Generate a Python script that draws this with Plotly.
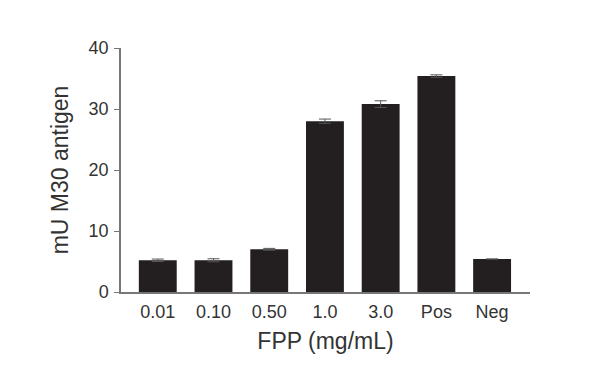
import plotly.graph_objects as go

categories = ["0.01", "0.10", "0.50", "1.0", "3.0", "Pos", "Neg"]
values = [5.2, 5.2, 7.0, 28.0, 30.8, 35.4, 5.4]
errors = [0.2, 0.25, 0.15, 0.35, 0.55, 0.2, 0.0]

fig = go.Figure(go.Bar(
    x=list(range(len(categories))), y=values,
    marker=dict(color="#231f20", line=dict(width=0)),
    width=0.68,
    error_y=dict(type="data", array=errors, visible=True, color="#555555", thickness=1, width=6),
))

fig.update_layout(
    width=600, height=370,
    margin=dict(l=113, r=78, t=40, b=86),
    plot_bgcolor="white", paper_bgcolor="white",
    font=dict(family="Liberation Sans, Arial, sans-serif", color="#333333"),
    showlegend=False,
)
fig.update_xaxes(
    range=[-0.66, 6.68], tickmode="array", tickvals=list(range(len(categories))),
    ticktext=categories, showline=True, linecolor="#777777", linewidth=1.5,
    ticks="", showgrid=False, zeroline=False, tickfont=dict(size=18),
    ticklabelstandoff=3,
    title=dict(text="FPP (mg/mL)", font=dict(size=23), standoff=12),
)
fig.update_yaxes(
    range=[0, 40], tickvals=[0, 10, 20, 30, 40], showline=True, linecolor="#777777",
    linewidth=1.5, ticks="outside", ticklen=5, tickcolor="#777777", showgrid=False,
    zeroline=False, tickfont=dict(size=18), ticklabelstandoff=2,
    title=dict(text="mU M30 antigen", font=dict(size=23), standoff=14),
)

fig.write_html("out.html")
